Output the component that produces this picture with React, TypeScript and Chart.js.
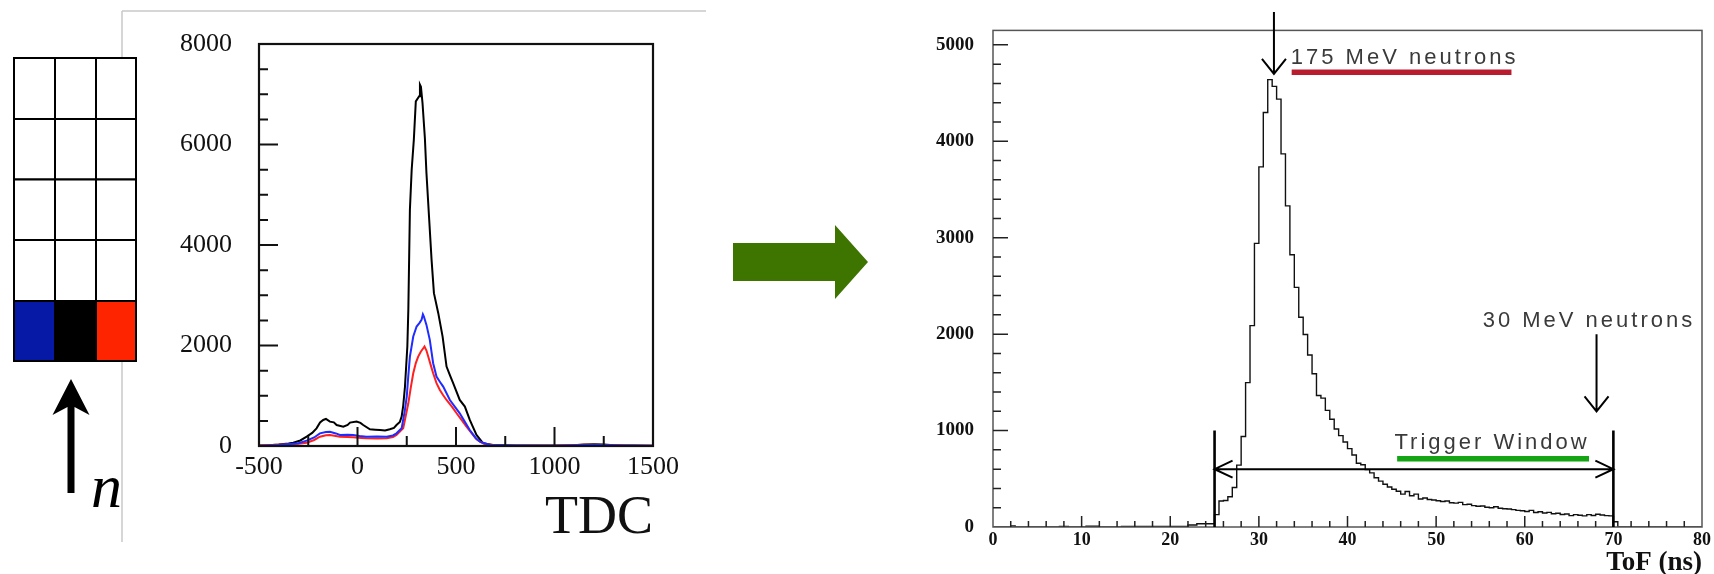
import React, { useEffect, useRef } from 'react';
import { Chart, registerables } from 'chart.js';

Chart.register(...registerables);

// ---------------- Left panel: TDC spectra ----------------
const tdcBlack: [number, number][] = [
  [-500, 10], [-450, 15], [-400, 30], [-350, 50], [-326, 66], [-290, 110], [-258, 186], [-230, 260],
  [-208, 352], [-190, 470], [-174, 518], [-160, 540], [-140, 485], [-120, 470], [-106, 418], [-72, 385],
  [-50, 420], [-38, 465], [-5, 485], [15, 460], [29, 418], [63, 332], [90, 325], [114, 319], [140, 310],
  [164, 332], [185, 360], [198, 418], [215, 480], [224, 584], [232, 800], [241, 1182], [253, 1979],
  [258, 2709], [266, 4701], [275, 5498], [286, 6096], [296, 6859], [313, 6959], [317, 7191], [322, 7150],
  [330, 6826], [342, 6129], [350, 5432], [364, 4502], [376, 3705], [388, 3041], [410, 2643], [432, 2178],
  [452, 1580], [470, 1400], [486, 1248], [519, 916], [545, 784], [570, 518], [604, 219], [638, 53],
  [688, 20], [800, 12], [1000, 10], [1100, 15], [1150, 30], [1200, 35], [1250, 30], [1300, 15],
  [1400, 8], [1500, 5],
];
const tdcBlue: [number, number][] = [
  [-500, 5], [-400, 20], [-300, 55], [-258, 106], [-220, 170], [-191, 252], [-160, 280], [-140, 285],
  [-110, 250], [-89, 219], [-50, 225], [-22, 219], [10, 200], [46, 186], [100, 190], [148, 186],
  [180, 210], [198, 252], [224, 352], [240, 700], [250, 983], [258, 1400], [266, 1780], [283, 2178],
  [300, 2377], [315, 2450], [325, 2510], [332, 2620], [337, 2576], [350, 2410], [367, 2112], [384, 1647],
  [401, 1381], [418, 1280], [435, 1182], [469, 916], [519, 651], [545, 480], [570, 319], [600, 160],
  [621, 86], [672, 20], [800, 8], [1000, 5], [1150, 20], [1250, 18], [1350, 10], [1500, 5],
];
const tdcRed: [number, number][] = [
  [-500, 8], [-400, 25], [-300, 45], [-258, 66], [-220, 120], [-191, 186], [-160, 215], [-140, 219],
  [-110, 200], [-89, 186], [-50, 180], [-22, 173], [20, 160], [46, 153], [100, 150], [148, 153],
  [180, 180], [198, 219], [232, 352], [245, 600], [258, 850], [270, 1150], [283, 1448], [296, 1650],
  [308, 1780], [322, 1880], [334, 1946], [340, 1980], [350, 1900], [359, 1780], [371, 1620], [384, 1448],
  [401, 1250], [418, 1116], [435, 1010], [452, 916], [480, 780], [503, 651], [530, 510], [553, 385],
  [580, 250], [604, 133], [630, 70], [655, 33], [700, 10], [1000, 5], [1150, 25], [1250, 20],
  [1350, 8], [1500, 5],
];
const TDC_X_LABELS = [-500, 0, 500, 1000, 1500];
const TDC_Y_LABELS = [0, 2000, 4000, 6000, 8000];

// ---------------- Right panel: ToF histogram (0.5 ns bins from 0 ns) ----------------
const TOF_FIRST_EDGE = 0;
const TOF_BIN_WIDTH = 0.5;
const tofCounts = [
  0, 0, 0, 0, 10, 0, 0, 0, 0, 0, // 0 - 5
  0, 0, 0, 0, 0, 6, 6, 0, 0, 0, // 5 - 10
  0, 8, 8, 8, 0, 0, 0, 0, 0, 7, // 10 - 15
  7, 7, 7, 7, 7, 7, 7, 7, 7, 7, // 15 - 20
  7, 7, 7, 7, 20, 20, 34, 34, 34, 34, // 20 - 25
  128, 270, 275, 314, 409, 642, 939, 1497, 2088, 2941, // 25 - 30
  3735, 4299, 4640, 4569, 4437, 3870, 3330, 2823, 2485, 2175, // 30 - 35
  1996, 1783, 1590, 1364, 1337, 1209, 1117, 1016, 948, 881, // 35 - 40
  813, 746, 661, 645, 595, 561, 510, 476, 443, 415, // 40 - 45
  392, 370, 341, 368, 324, 341, 291, 301, 285, 280, // 45 - 50
  272, 265, 270, 252, 248, 255, 232, 236, 222, 215, // 50 - 55
  218, 205, 200, 210, 195, 190, 186, 180, 172, 168, // 55 - 60
  160, 172, 150, 158, 145, 152, 138, 142, 130, 135, // 60 - 65
  118, 128, 122, 115, 128, 120, 132, 125, 118, 115, // 65 - 70
  54, 0, 0, 0, 0, 0, 0, 0, 0, 0, // 70 - 75
  0, 0, 0, 0, 0, 0, 0, 0, 0, 0, // 75 - 80
];
const TOF_X_LABELS = [0, 10, 20, 30, 40, 50, 60, 70, 80];
const TOF_Y_LABELS = [0, 1000, 2000, 3000, 4000, 5000];

// annotation anchors (data coordinates)
const peakArrow = { x: 31.7, yFrom: 5340, yTo: 4700 };
const lowArrow = { x: 68.1, yFrom: 2000, yTo: 1200 };
const windowEdges = [25, 70];
const windowTop = 1000;
const windowArrowLevel = 600;
const label175 = { text: '175 MeV neutrons', x: 33.6, y: 4800 };
const bar175 = { x1: 33.7, x2: 58.5, y: 4716 };
const label30 = { text: '30 MeV neutrons', x: 55.25, y: 2077 };
const labelTrigger = { text: 'Trigger Window', x: 45.3, y: 810 };
const barTrigger = { x1: 45.6, x2: 67.25, y: 709 };

const plainLabel = (v: any) => String(v);

const tdcDecor = {
  id: 'tdcDecor',
  afterDatasetsDraw(chart: any) {
    const { ctx, chartArea: a, scales } = chart;
    const x = scales.x;
    const y = scales.y;
    ctx.save();
    ctx.strokeStyle = '#111';
    ctx.lineWidth = 2.2;
    ctx.strokeRect(a.left, a.top, a.right - a.left, a.bottom - a.top);
    ctx.lineWidth = 2;
    ctx.beginPath();
    for (let v = 500; v <= 8000; v += 500) {
      const p = y.getPixelForValue(v);
      const len = v % 2000 === 0 ? 19 : 9;
      ctx.moveTo(a.left, p);
      ctx.lineTo(a.left + len, p);
    }
    for (let v = -250; v < 1500; v += 250) {
      const p = x.getPixelForValue(v);
      const len = v % 500 === 0 ? 19 : 10;
      ctx.moveTo(p, a.bottom);
      ctx.lineTo(p, a.bottom - len);
    }
    ctx.stroke();
    ctx.restore();
  },
};

function downArrow(ctx: any, px: number, pyFrom: number, pyTo: number) {
  ctx.beginPath();
  ctx.moveTo(px, pyFrom);
  ctx.lineTo(px, pyTo);
  ctx.moveTo(px - 12, pyTo - 15);
  ctx.lineTo(px, pyTo);
  ctx.lineTo(px + 12, pyTo - 15);
  ctx.stroke();
}

const tofDecor = {
  id: 'tofDecor',
  afterDatasetsDraw(chart: any) {
    const { ctx, chartArea: a, scales } = chart;
    const x = scales.x;
    const y = scales.y;
    const X = (v: number) => x.getPixelForValue(v);
    const Y = (v: number) => y.getPixelForValue(v);
    ctx.save();
    // frame
    ctx.strokeStyle = '#555';
    ctx.lineWidth = 1.5;
    ctx.strokeRect(a.left, a.top, a.right - a.left, a.bottom - a.top);
    // inward ticks
    ctx.strokeStyle = '#222';
    ctx.lineWidth = 1.5;
    ctx.beginPath();
    for (let v = 200; v <= 5000; v += 200) {
      const p = Y(v);
      const len = v % 1000 === 0 ? 15 : 8;
      ctx.moveTo(a.left, p);
      ctx.lineTo(a.left + len, p);
    }
    for (let v = 2; v < 80; v += 2) {
      const p = X(v);
      const len = v % 10 === 0 ? 11 : 6;
      ctx.moveTo(p, a.bottom);
      ctx.lineTo(p, a.bottom - len);
    }
    ctx.stroke();

    // arrows
    ctx.strokeStyle = '#000';
    ctx.lineWidth = 2;
    downArrow(ctx, X(peakArrow.x), Y(peakArrow.yFrom), Y(peakArrow.yTo));
    downArrow(ctx, X(lowArrow.x), Y(lowArrow.yFrom), Y(lowArrow.yTo));

    // trigger window
    ctx.lineWidth = 2.6;
    ctx.beginPath();
    for (const e of windowEdges) {
      ctx.moveTo(X(e), Y(0));
      ctx.lineTo(X(e), Y(windowTop));
    }
    ctx.stroke();
    ctx.lineWidth = 2;
    const yl = Y(windowArrowLevel);
    const xl = X(windowEdges[0]);
    const xr = X(windowEdges[1]);
    ctx.beginPath();
    ctx.moveTo(xl, yl);
    ctx.lineTo(xr, yl);
    ctx.moveTo(xl + 18, yl - 8.5);
    ctx.lineTo(xl, yl);
    ctx.lineTo(xl + 18, yl + 8.5);
    ctx.moveTo(xr - 18, yl - 8.5);
    ctx.lineTo(xr, yl);
    ctx.lineTo(xr - 18, yl + 8.5);
    ctx.stroke();

    // coloured bars
    ctx.lineCap = 'butt';
    ctx.lineWidth = 5.5;
    ctx.strokeStyle = '#b91c2f';
    ctx.beginPath();
    ctx.moveTo(X(bar175.x1), Y(bar175.y));
    ctx.lineTo(X(bar175.x2), Y(bar175.y));
    ctx.stroke();
    ctx.strokeStyle = '#13a513';
    ctx.beginPath();
    ctx.moveTo(X(barTrigger.x1), Y(barTrigger.y));
    ctx.lineTo(X(barTrigger.x2), Y(barTrigger.y));
    ctx.stroke();

    // labels
    ctx.fillStyle = '#3a3a3a';
    ctx.font = '22px "Liberation Sans", Arial, sans-serif';
    ctx.textAlign = 'left';
    ctx.textBaseline = 'alphabetic';
    (ctx as any).letterSpacing = '3px';
    for (const l of [label175, label30, labelTrigger]) {
      ctx.fillText(l.text, X(l.x), Y(l.y));
    }
    (ctx as any).letterSpacing = '0px';
    ctx.restore();
  },
};

function TdcChart() {
  const ref = useRef<HTMLCanvasElement>(null);
  useEffect(() => {
    if (!ref.current) return;
    const mk = (pts: [number, number][]) => pts.map(([x, y]) => ({ x, y }));
    const tickFont = { family: '"Liberation Serif", "Times New Roman", serif', size: 26 };
    const chart = new Chart(ref.current, {
      type: 'line',
      data: {
        datasets: [
          { data: mk(tdcBlue), borderColor: '#1f2bff', borderWidth: 2, pointRadius: 0, tension: 0 },
          { data: mk(tdcRed), borderColor: '#ff2020', borderWidth: 2, pointRadius: 0, tension: 0 },
          { data: mk(tdcBlack), borderColor: '#000000', borderWidth: 2, pointRadius: 0, tension: 0 },
        ],
      },
      options: {
        responsive: false,
        animation: false,
        devicePixelRatio: 1,
        parsing: false as any,
        layout: { padding: { left: 0, top: 44, right: 47, bottom: 0 }, autoPadding: false },
        plugins: { legend: { display: false }, tooltip: { enabled: false } },
        scales: {
          x: {
            type: 'linear',
            min: -500,
            max: 1500,
            afterFit: (s: any) => { s.height = 128; },
            afterBuildTicks: (s: any) => { s.ticks = TDC_X_LABELS.map((v) => ({ value: v })); },
            grid: { display: false, drawTicks: false },
            border: { display: false },
            ticks: { padding: 6, autoSkip: false, maxRotation: 0, font: tickFont, color: '#111', callback: plainLabel },
            title: {
              display: true,
              text: 'TDC',
              align: 'end',
              color: '#111',
              font: { family: '"Liberation Serif", "Times New Roman", serif', size: 54, lineHeight: 1 },
              padding: { top: 0, bottom: 28 },
            },
          },
          y: {
            type: 'linear',
            min: 0,
            max: 8000,
            afterFit: (s: any) => { s.width = 119; },
            afterBuildTicks: (s: any) => { s.ticks = TDC_Y_LABELS.map((v) => ({ value: v })); },
            grid: { display: false, drawTicks: false },
            border: { display: false },
            ticks: { padding: 27, autoSkip: false, font: tickFont, color: '#111', callback: plainLabel },
          },
        },
      },
      plugins: [tdcDecor],
    } as any);
    return () => chart.destroy();
  }, []);
  return (
    <canvas
      ref={ref}
      width={560}
      height={574}
      style={{ position: 'absolute', left: 140, top: 0, width: 560, height: 574 }}
    />
  );
}

function TofChart() {
  const ref = useRef<HTMLCanvasElement>(null);
  useEffect(() => {
    if (!ref.current) return;
    const pts = tofCounts.map((c, i) => ({ x: TOF_FIRST_EDGE + i * TOF_BIN_WIDTH, y: c }));
    pts.push({ x: TOF_FIRST_EDGE + tofCounts.length * TOF_BIN_WIDTH, y: 0 });
    const xTickFont = { family: '"Liberation Serif", "Times New Roman", serif', size: 18, weight: 'bold' };
    const yTickFont = { family: '"Liberation Serif", "Times New Roman", serif', size: 19, weight: 'bold' };
    const chart = new Chart(ref.current, {
      type: 'line',
      data: {
        datasets: [
          { data: pts, stepped: 'before', borderColor: '#111', borderWidth: 1.4, pointRadius: 0, fill: false },
        ],
      },
      options: {
        responsive: false,
        animation: false,
        devicePixelRatio: 1,
        parsing: false as any,
        layout: { padding: { left: 0, top: 18, right: 8, bottom: 0 }, autoPadding: false },
        plugins: { legend: { display: false }, tooltip: { enabled: false } },
        scales: {
          x: {
            type: 'linear',
            min: 0,
            max: 80,
            afterFit: (s: any) => { s.height = 47; },
            afterBuildTicks: (s: any) => { s.ticks = TOF_X_LABELS.map((v) => ({ value: v })); },
            grid: { display: false, drawTicks: false },
            border: { display: false },
            ticks: { padding: 3, autoSkip: false, maxRotation: 0, font: xTickFont, color: '#111', callback: plainLabel },
            title: {
              display: true,
              text: 'ToF (ns)',
              align: 'end',
              color: '#111',
              font: { family: '"Liberation Serif", "Times New Roman", serif', size: 27, weight: 'bold', lineHeight: 1 },
              padding: { top: 0, bottom: -3 },
            },
          },
          y: {
            type: 'linear',
            min: 0,
            max: 5150,
            afterFit: (s: any) => { s.width = 93; },
            afterBuildTicks: (s: any) => { s.ticks = TOF_Y_LABELS.map((v) => ({ value: v })); },
            grid: { display: false, drawTicks: false },
            border: { display: false },
            ticks: { padding: 19, autoSkip: false, font: yTickFont, color: '#111', callback: plainLabel },
          },
        },
      },
      plugins: [tofDecor],
    } as any);
    return () => chart.destroy();
  }, []);
  return (
    <canvas
      ref={ref}
      width={814}
      height={574}
      style={{ position: 'absolute', left: 900, top: 0, width: 814, height: 574 }}
    />
  );
}

const gridCols = [14, 55, 96, 136];
const gridRows = [58, 119, 179.5, 240, 301, 361];
const bottomRowColors = ['#0519a6', '#000000', '#ff2400'];

export default function App() {
  const cells: React.ReactNode[] = [];
  for (let r = 0; r < 5; r++) {
    for (let c = 0; c < 3; c++) {
      cells.push(
        <rect
          key={`${r}-${c}`}
          x={gridCols[c]}
          y={gridRows[r]}
          width={gridCols[c + 1] - gridCols[c]}
          height={gridRows[r + 1] - gridRows[r]}
          fill={r === 4 ? bottomRowColors[c] : '#fff'}
          stroke="#000"
          strokeWidth={2}
        />
      );
    }
  }
  return (
    <div
      style={{
        position: 'fixed',
        left: 0,
        top: 0,
        width: 1714,
        height: 574,
        background: '#fff',
        overflow: 'hidden',
      }}
    >
      <svg width={1714} height={574} style={{ position: 'absolute', left: 0, top: 0 }}>
        <line x1={122} y1={11} x2={122} y2={542} stroke="#c8c8c8" strokeWidth={1.5} />
        <line x1={122} y1={11} x2={706} y2={11} stroke="#c8c8c8" strokeWidth={1.5} />
        {cells}
        <polygon
          points="71,379 89.5,415 74.5,407 74.5,493 67.5,493 67.5,407 52.5,415"
          fill="#000"
        />
        <text
          x={91}
          y={507}
          fontFamily='"Liberation Serif", "Times New Roman", serif'
          fontStyle="italic"
          fontSize={62}
          fill="#000"
        >
          n
        </text>
        <polygon points="733,243 835,243 835,225 868,262 835,299 835,281 733,281" fill="#3e7400" />
      </svg>
      <TdcChart />
      <TofChart />
    </div>
  );
}
